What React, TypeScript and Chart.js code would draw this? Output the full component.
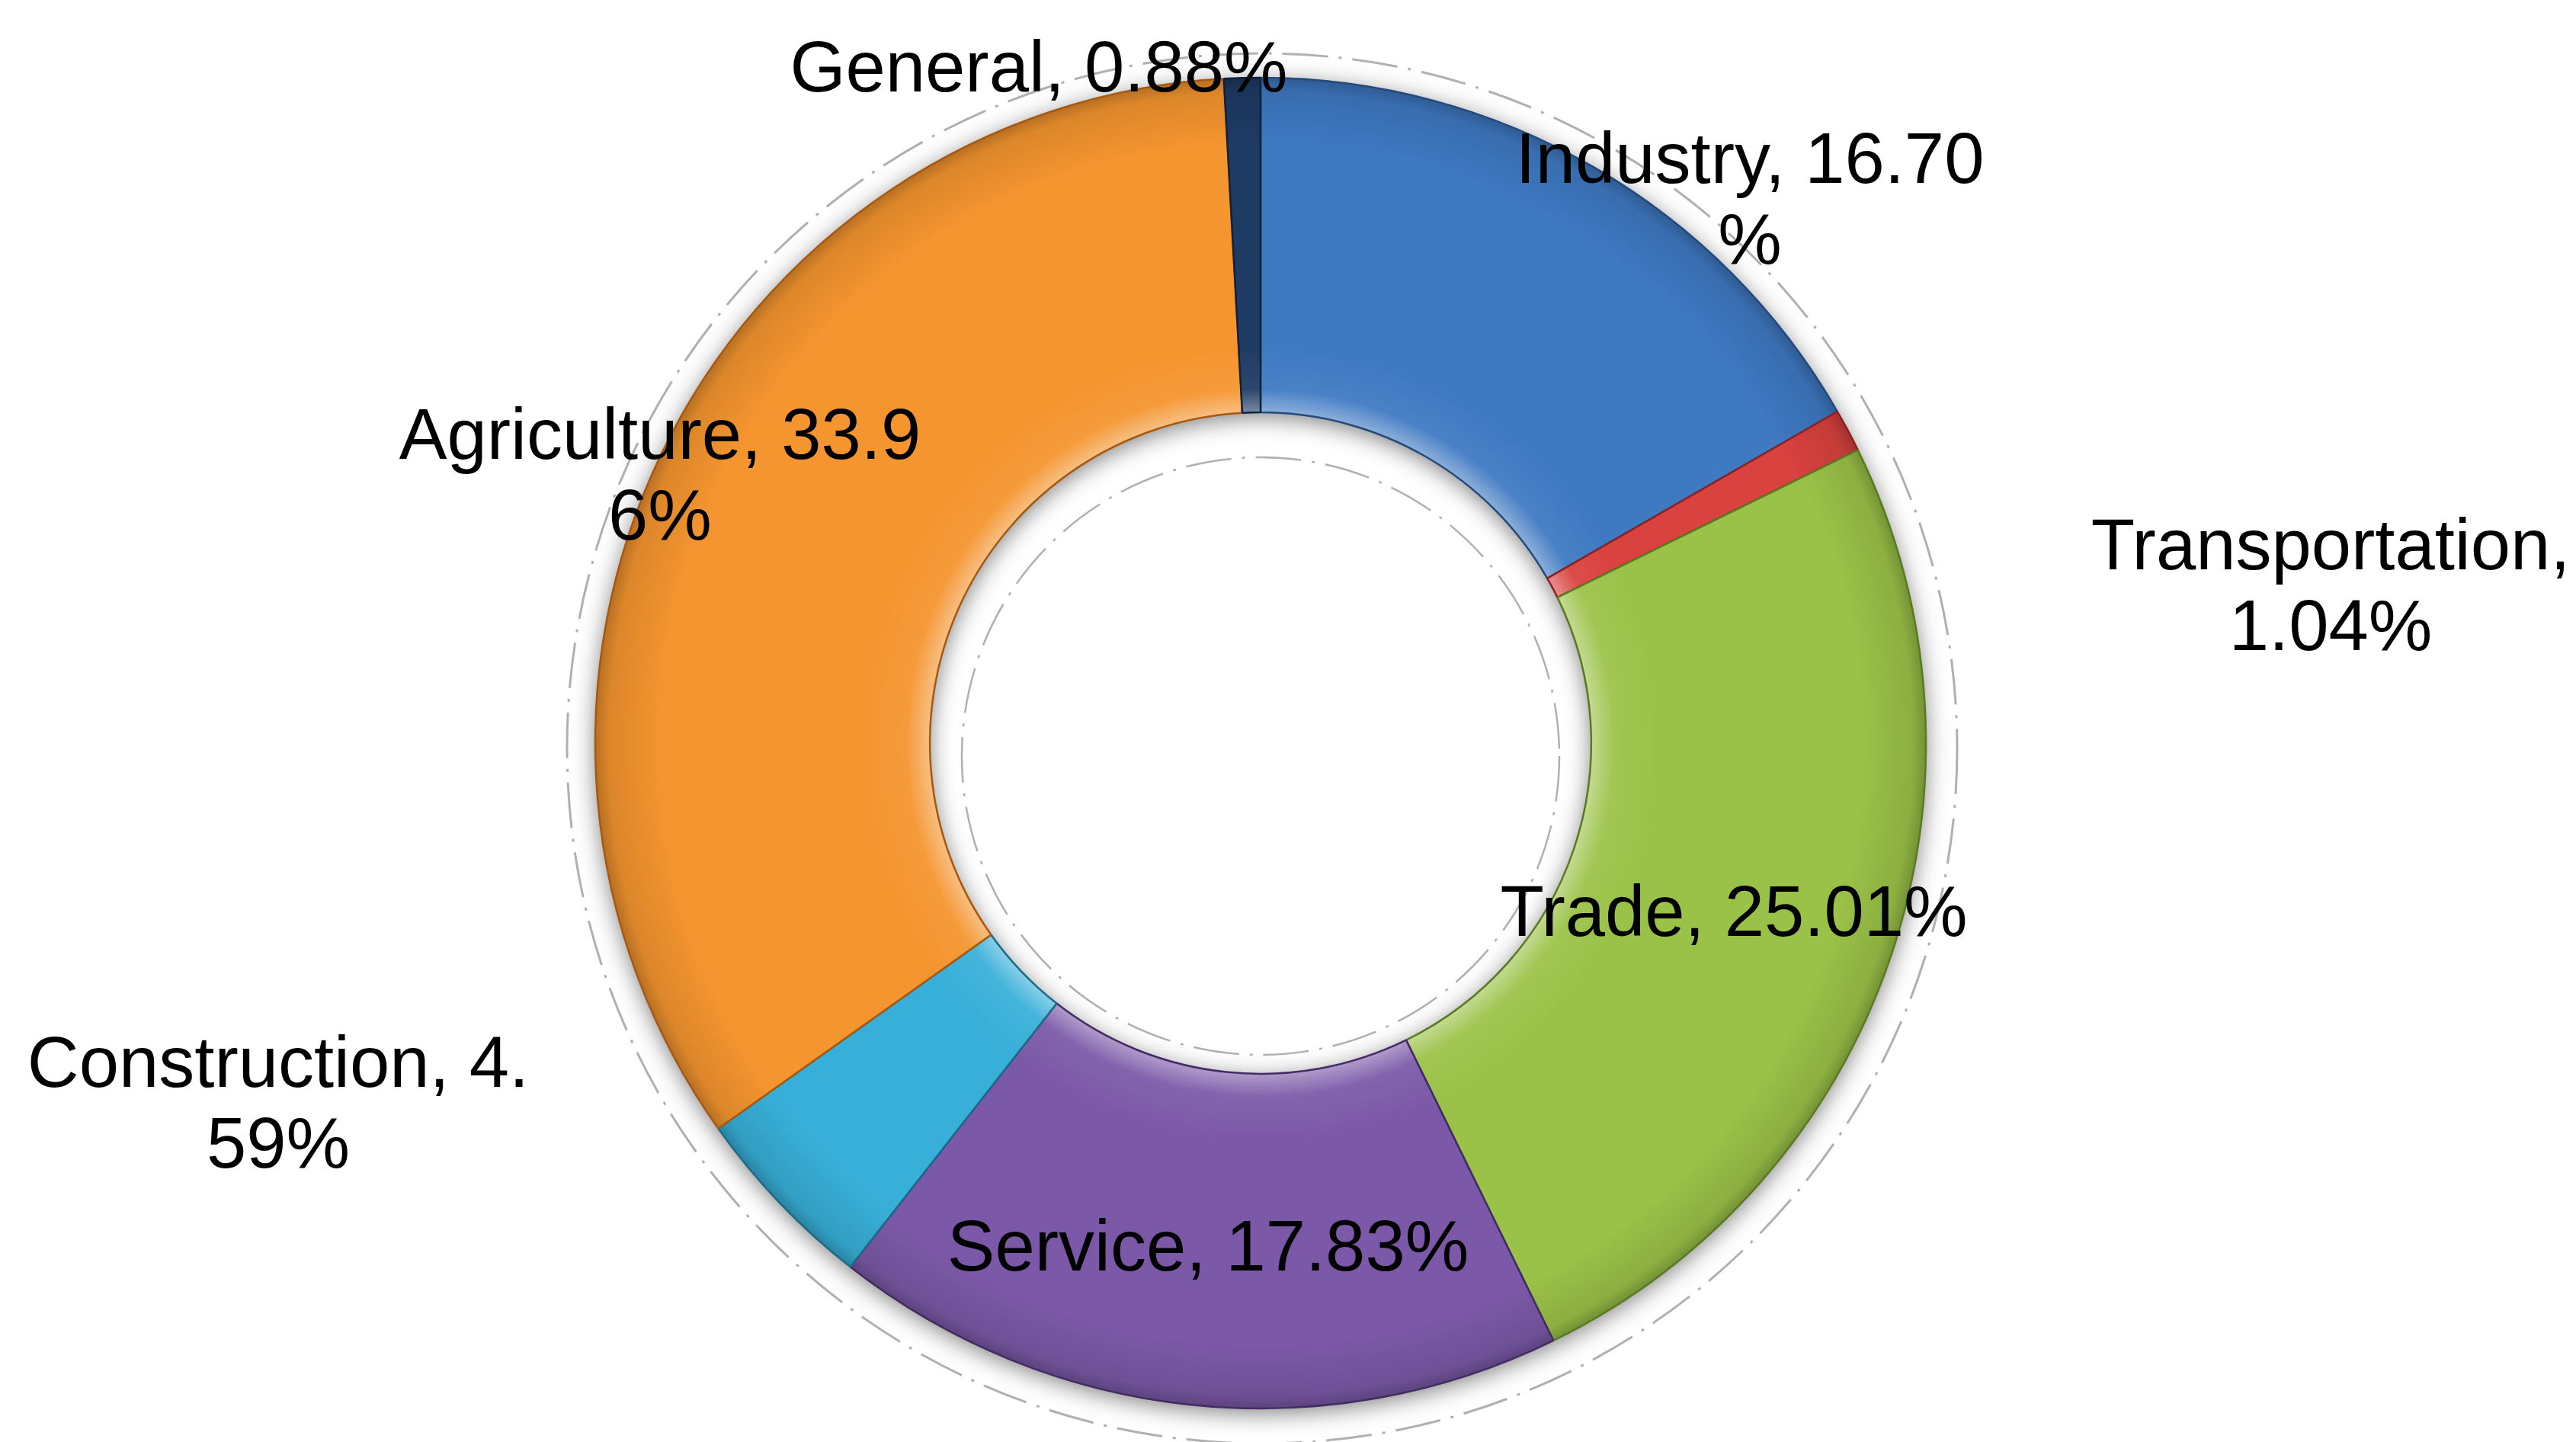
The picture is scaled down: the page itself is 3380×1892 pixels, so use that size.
import React, { useEffect, useRef } from "react";
import { Chart, registerables } from "chart.js";

Chart.register(...registerables);

// ---- data ----
const categories = ["Industry", "Transportation", "Trade", "Service", "Construction", "Agriculture", "General"];
const shares = [16.7, 1.04, 25.01, 17.83, 4.59, 33.96, 0.88];
// where each label wraps onto a second line (character index, 0 = no wrap)
const labelWrapAt = [15, 15, 0, 0, 16, 17, 0];

// ---- styles ----
const sliceColors = ["#3E79C2", "#D9423E", "#9BC248", "#7B59A8", "#38AFD8", "#F4952F", "#1E3B64"];
const edgeColors = ["#24497C", "#8A2220", "#5A7A22", "#432C63", "#1B6A88", "#A65810", "#0E2240"];
// label anchor offsets from the ring centre (x of text centre, y of first baseline)
const labelOffsets: [number, number][] = [
  [642, -735],
  [1404, -228],
  [621, 253],
  [-69, 692],
  [-1289, 451],
  [-788, -373],
  [-291, -855],
];

const W = 3380;
const H = 1892;
const OUTER_R = 873;
const CUTOUT = 0.497;
const FONT_PX = 94;
const LINE_H = 106;

function hexToRgb(h: string) {
  const v = parseInt(h.slice(1), 16);
  return [(v >> 16) & 255, (v >> 8) & 255, v & 255];
}
function mix(h: string, target: number, t: number) {
  const [r, g, b] = hexToRgb(h);
  const m = (c: number) => Math.round(c + (target - c) * t);
  return `rgb(${m(r)},${m(g)},${m(b)})`;
}

const decorPlugin = {
  id: "decor",
  beforeDatasetsDraw(chart: any) {
    const ca = chart.chartArea;
    const cx = (ca.left + ca.right) / 2;
    const cy = (ca.top + ca.bottom) / 2;
    const ctx: CanvasRenderingContext2D = chart.ctx;
    const ri = OUTER_R * CUTOUT;
    // dashed guide circles
    ctx.save();
    ctx.strokeStyle = "rgba(150,150,150,0.75)";
    ctx.lineWidth = 3;
    ctx.setLineDash([60, 14, 4, 14]);
    ctx.beginPath();
    ctx.arc(cx + 2, cy + 7, 912, 0, Math.PI * 2);
    ctx.stroke();
    ctx.lineWidth = 2.5;
    ctx.beginPath();
    ctx.arc(cx, cy + 17, 392, 0, Math.PI * 2);
    ctx.stroke();
    ctx.restore();
    // soft shadow around ring
    ctx.save();
    ctx.beginPath();
    ctx.arc(cx, cy, OUTER_R, 0, Math.PI * 2);
    ctx.arc(cx, cy, ri, 0, Math.PI * 2, true);
    ctx.shadowColor = "rgba(0,0,0,0.5)";
    ctx.shadowBlur = 30;
    ctx.shadowOffsetY = 6;
    ctx.fillStyle = "#777";
    ctx.fill();
    ctx.restore();
  },
  afterDatasetsDraw(chart: any) {
    const ca = chart.chartArea;
    const cx = (ca.left + ca.right) / 2;
    const cy = (ca.top + ca.bottom) / 2;
    const ctx: CanvasRenderingContext2D = chart.ctx;
    ctx.save();
    ctx.font = `${FONT_PX}px "Liberation Sans", Arial, sans-serif`;
    ctx.fillStyle = "#000";
    ctx.textAlign = "center";
    ctx.textBaseline = "alphabetic";
    categories.forEach((name, i) => {
      const full = `${name}, ${shares[i].toFixed(2)}%`;
      const cut = labelWrapAt[i];
      const lines = cut > 0 ? [full.slice(0, cut), full.slice(cut).trim()] : [full];
      const [dx, dy] = labelOffsets[i];
      lines.forEach((ln, k) => {
        ctx.fillText(ln, cx + dx, cy + dy + k * LINE_H);
      });
    });
    ctx.restore();
  },
};

export default function App() {
  const ref = useRef<HTMLCanvasElement | null>(null);
  useEffect(() => {
    if (!ref.current) return;
    const chart = new Chart(ref.current, {
      type: "doughnut",
      data: {
        labels: categories,
        datasets: [
          {
            data: shares,
            backgroundColor: (c: any) => {
              const chartObj = c.chart;
              const ca = chartObj.chartArea;
              const base = sliceColors[c.dataIndex % sliceColors.length];
              if (!ca) return base;
              const cx = (ca.left + ca.right) / 2;
              const cy = (ca.top + ca.bottom) / 2;
              const g = chartObj.ctx.createRadialGradient(cx, cy, OUTER_R * CUTOUT, cx, cy, OUTER_R);
              g.addColorStop(0, mix(base, 255, 0.4));
              g.addColorStop(0.07, mix(base, 255, 0.06));
              g.addColorStop(0.2, base);
              g.addColorStop(0.8, base);
              g.addColorStop(0.96, mix(base, 0, 0.1));
              g.addColorStop(1, mix(base, 0, 0.25));
              return g;
            },
            borderColor: edgeColors,
            borderWidth: 2.5,
          },
        ],
      },
      options: {
        responsive: false,
        animation: false,
        radius: OUTER_R,
        cutout: `${CUTOUT * 100}%`,
        layout: { padding: { left: 0, right: 72, top: 58, bottom: 0 } },
        plugins: {
          legend: { display: false },
          tooltip: { enabled: false },
        },
      },
      plugins: [decorPlugin],
    });
    return () => chart.destroy();
  }, []);
  return (
    <div style={{ position: "fixed", left: 0, top: 0, width: W, height: H, background: "#fff" }}>
      <canvas ref={ref} width={W} height={H} style={{ display: "block", width: W, height: H }} />
    </div>
  );
}
